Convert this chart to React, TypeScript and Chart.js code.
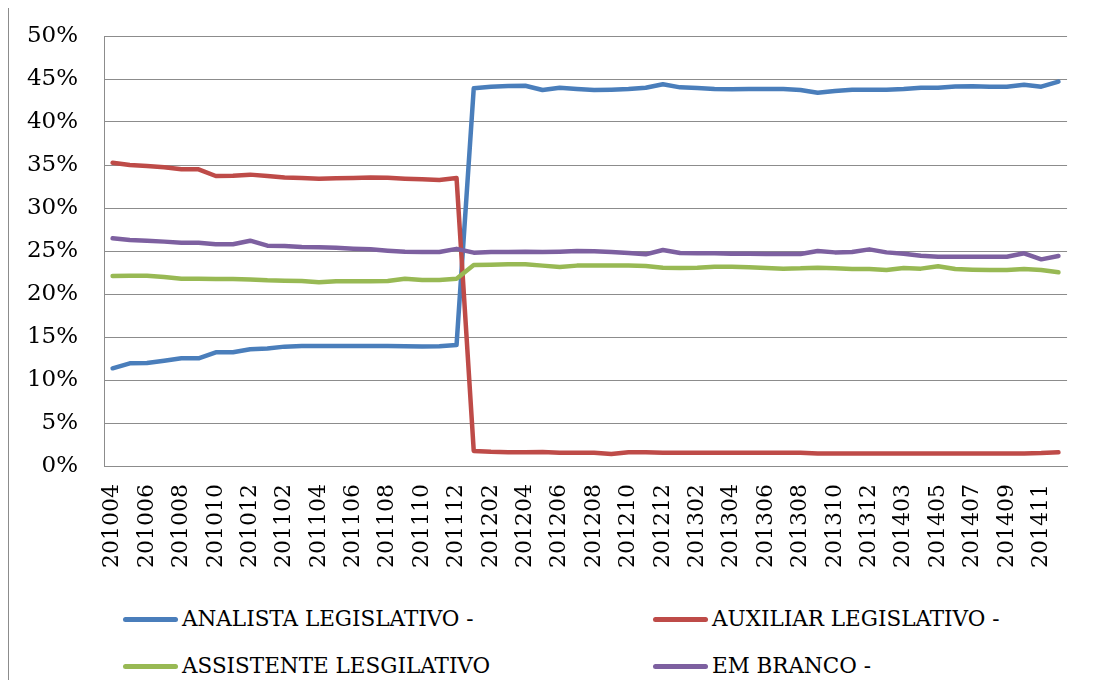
import React, { useEffect, useRef } from "react";
import { Chart, registerables } from "chart.js";

Chart.register(...registerables);

const categories = [
  "201004", "201005", "201006", "201007", "201008", "201009", "201010", "201011", "201012",
  "201101", "201102", "201103", "201104", "201105", "201106", "201107", "201108", "201109", "201110", "201111", "201112",
  "201201", "201202", "201203", "201204", "201205", "201206", "201207", "201208", "201209", "201210", "201211", "201212",
  "201301", "201302", "201303", "201304", "201305", "201306", "201307", "201308", "201309", "201310", "201311", "201312",
  "201401",
  "201403", "201404", "201405", "201406", "201407", "201408", "201409", "201410", "201411", "201412",
];

const analista = [
  11.36, 11.94, 11.98, 12.25, 12.52, 12.52, 13.22, 13.22, 13.57,
  13.65, 13.88, 13.96, 13.96, 13.96, 13.96, 13.96, 13.96, 13.92, 13.9, 13.92, 14.07,
  43.92, 44.11, 44.19, 44.22, 43.72, 43.99, 43.84, 43.72, 43.76, 43.84, 43.99, 44.38,
  44.03, 43.95, 43.84, 43.8, 43.84, 43.84, 43.84, 43.72, 43.41, 43.6, 43.76, 43.76,
  43.76,
  43.84, 43.99, 43.99, 44.14, 44.17, 44.11, 44.11, 44.34, 44.11, 44.69,
];

const auxiliar = [
  35.27, 35.0, 34.88, 34.73, 34.5, 34.5, 33.72, 33.76, 33.88,
  33.72, 33.56, 33.49, 33.41, 33.45, 33.49, 33.56, 33.53, 33.41, 33.33, 33.26, 33.49,
  1.75, 1.65, 1.6, 1.6, 1.62, 1.55, 1.55, 1.55, 1.4, 1.6, 1.6, 1.55,
  1.55, 1.55, 1.55, 1.55, 1.55, 1.55, 1.55, 1.55, 1.45, 1.45, 1.45, 1.45,
  1.45,
  1.45, 1.45, 1.45, 1.45, 1.45, 1.45, 1.45, 1.45, 1.5, 1.6,
];

const assistente = [
  22.09, 22.13, 22.13, 21.98, 21.78, 21.78, 21.74, 21.74, 21.7,
  21.59, 21.55, 21.51, 21.36, 21.47, 21.47, 21.47, 21.51, 21.78, 21.63, 21.63, 21.78,
  23.37, 23.41, 23.45, 23.45, 23.3, 23.15, 23.3, 23.3, 23.3, 23.3, 23.26, 23.06,
  23.02, 23.06, 23.18, 23.18, 23.1, 23.02, 22.95, 22.98, 23.06, 22.98, 22.9, 22.9,
  22.79,
  23.02, 22.95, 23.22, 22.9, 22.83, 22.79, 22.79, 22.9, 22.79, 22.52,
];

const emBranco = [
  26.47, 26.28, 26.2, 26.09, 25.97, 25.97, 25.78, 25.78, 26.2,
  25.62, 25.58, 25.47, 25.43, 25.39, 25.27, 25.19, 25.04, 24.92, 24.88, 24.88, 25.25,
  24.81, 24.88, 24.88, 24.92, 24.88, 24.92, 25.0, 24.96, 24.88, 24.77, 24.61, 25.12,
  24.77, 24.73, 24.73, 24.69, 24.69, 24.65, 24.65, 24.65, 25.0, 24.84, 24.88, 25.19,
  24.84,
  24.69, 24.46, 24.34, 24.34, 24.34, 24.34, 24.34, 24.73, 24.03, 24.42,
];

const seriesNames = [
  "ANALISTA LEGISLATIVO -",
  "AUXILIAR LEGISLATIVO -",
  "ASSISTENTE LESGILATIVO",
  "EM BRANCO -",
];
const seriesColors = ["#4A7EBB", "#BE4B48", "#98B954", "#7D60A0"];
const seriesData = [analista, auxiliar, assistente, emBranco];

const FONT = "'DejaVu Serif', serif";
const GRID = "#8c8c8c";

function ChartCanvas() {
  const ref = useRef<HTMLCanvasElement | null>(null);
  useEffect(() => {
    if (!ref.current) return;
    const chart = new Chart(ref.current, {
      type: "line",
      data: {
        labels: categories,
        datasets: seriesData.map((d, i) => ({
          label: seriesNames[i],
          data: d,
          borderColor: seriesColors[i],
          backgroundColor: seriesColors[i],
          borderWidth: 4.5,
          pointRadius: 0,
          pointHoverRadius: 0,
          tension: 0,
          fill: false,
          borderJoinStyle: "round" as const,
          borderCapStyle: "round" as const,
          order: 4 - i,
        })),
      },
      options: {
        responsive: false,
        animation: false,
        events: [],
        layout: { padding: { top: 28, right: 16, bottom: 0, left: 0 } },
        plugins: {
          legend: { display: false },
          tooltip: { enabled: false },
          title: { display: false },
        },
        scales: {
          x: {
            type: "category",
            offset: true,
            grid: { display: false, drawTicks: false },
            border: { display: true, color: GRID, width: 1 },
            ticks: {
              autoSkip: false,
              maxRotation: 90,
              minRotation: 90,
              padding: 18,
              color: "#000",
              font: { family: FONT, size: 22 },
              callback: (_v: any, idx: number) => (idx % 2 === 0 ? categories[idx] : ""),
            },
            afterFit: (scale: any) => {
              scale.height = 124;
            },
          },
          y: {
            min: 0,
            max: 50,
            grid: { color: GRID, lineWidth: 1, drawTicks: false },
            border: { display: true, color: GRID, width: 1 },
            ticks: {
              stepSize: 5,
              padding: 26,
              color: "#000",
              font: { family: FONT, size: 23 },
              callback: (v: any) => `${v}%`,
            },
            afterFit: (scale: any) => {
              scale.width = 95;
              scale.paddingTop = 14;
              scale.paddingBottom = 14;
            },
          },
        },
      },
    });
    return () => chart.destroy();
  }, []);
  return <canvas ref={ref} width={1094} height={582} style={{ display: "block" }} />;
}

function LegendItem({ idx, left, top }: { idx: number; left: number; top: number }) {
  return (
    <div style={{ position: "absolute", left, top, height: 0 }}>
      <div
        style={{
          position: "absolute",
          left: 0,
          top: -2.5,
          width: 55,
          height: 5,
          borderRadius: 3,
          background: seriesColors[idx],
        }}
      />
      <div
        style={{
          position: "absolute",
          left: 59,
          top: -14,
          whiteSpace: "nowrap",
          fontFamily: FONT,
          fontSize: 21.5,
          lineHeight: "28px",
          color: "#000",
        }}
      >
        {seriesNames[idx]}
      </div>
    </div>
  );
}

export default function App() {
  return (
    <div
      style={{
        position: "relative",
        marginTop: -1,
        width: 1095,
        height: 672,
        borderLeft: "1px solid #8c8c8c",
        borderTop: "1px solid #8c8c8c",
        background: "#fff",
      }}
    >
      <ChartCanvas />
      <LegendItem idx={0} left={114} top={611} />
      <LegendItem idx={1} left={644} top={611} />
      <LegendItem idx={2} left={114} top={658} />
      <LegendItem idx={3} left={644} top={658} />
    </div>
  );
}
